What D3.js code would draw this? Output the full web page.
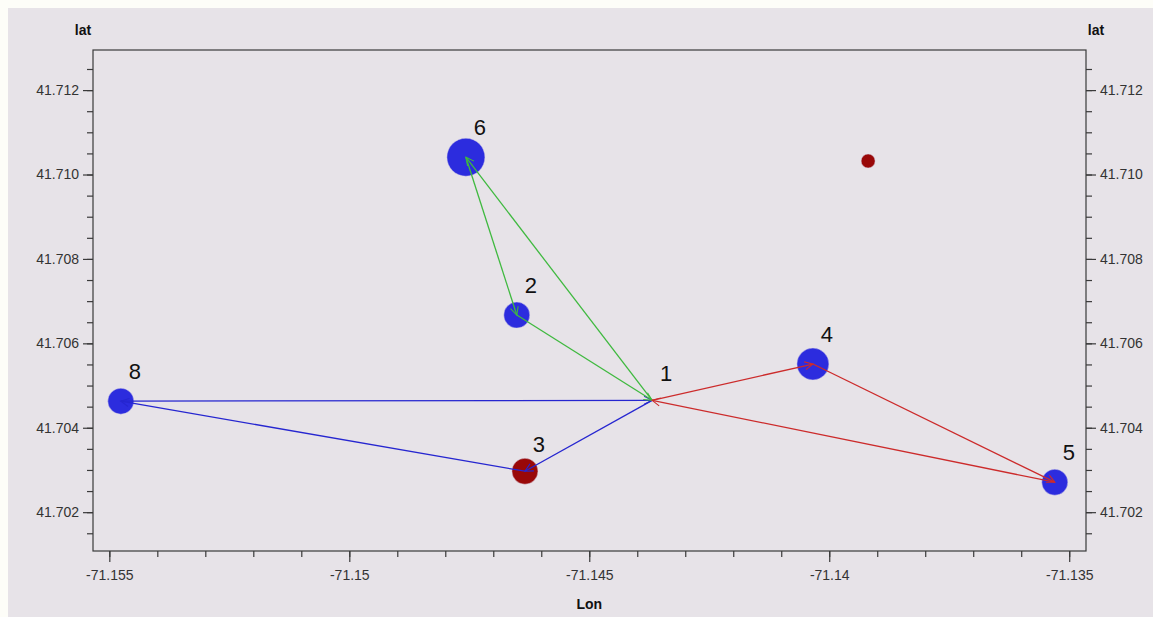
<!DOCTYPE html>
<html>
<head>
<meta charset="utf-8">
<script src="https://cdn.jsdelivr.net/npm/d3@7"></script>
<style>
  html, body { margin: 0; padding: 0; background: #fdfdf8; }
  svg { display: block; }
  text { font-family: "Liberation Sans", Arial, sans-serif; }
</style>
</head>
<body>
<svg id="chart" width="1153" height="617"></svg>
<script>
// ---- data ----
const pointIds   = ["1", "2", "3", "4", "5", "6", "8", ""];
const pointLon   = [-71.14369, -71.14651, -71.14634, -71.14034, -71.13530, -71.14757, -71.15476, -71.13919];
const pointLat   = [41.70465, 41.70667, 41.70297, 41.70551, 41.70271, 41.71041, 41.70463, 41.71032];
const pointSize  = [0, 13, 13, 16, 13, 19, 13, 7];
const pointGroup = ["none", "blue", "red", "blue", "blue", "blue", "blue", "red"];

const routeNames = ["blue", "green", "red"];
const routeBlue  = ["1", "3", "8", "1"];
const routeGreen = ["1", "6", "2", "1"];
const routeRed   = ["1", "4", "5", "1"];

const lonTicks   = [-71.155, -71.15, -71.145, -71.14, -71.135];
const lonMinor   = [-71.155, -71.154, -71.153, -71.152, -71.151, -71.15, -71.149, -71.148, -71.147, -71.146, -71.145,
                    -71.144, -71.143, -71.142, -71.141, -71.14, -71.139, -71.138, -71.137, -71.136, -71.135];
const latTicks   = [41.702, 41.704, 41.706, 41.708, 41.710, 41.712];
const latMinor   = [41.7015, 41.702, 41.7025, 41.703, 41.7035, 41.704, 41.7045, 41.705, 41.7055, 41.706, 41.7065,
                    41.707, 41.7075, 41.708, 41.7085, 41.709, 41.7095, 41.710, 41.7105, 41.711, 41.7115, 41.712, 41.7125];

// ---- layout / style ----
const svg = d3.select("#chart");
const W = 1153, H = 617;
const plot = { left: 93, top: 50, right: 1086, bottom: 551 };
const pointColor = { blue: "#2c2cde", red: "#990808", none: "none" };
const lineColor  = { blue: "#2626d0", green: "#3fb93f", red: "#cc2b2b" };

svg.append("rect").attr("x", 8).attr("y", 8).attr("width", W - 8).attr("height", H - 8).attr("fill", "#e7e3e8");

const x = d3.scaleLinear().domain([-71.15534, -71.13465]).range([plot.left, plot.right]);
const y = d3.scaleLinear().domain([41.70108, 41.71295]).range([plot.bottom, plot.top]);

const fmt = d => String(+d.toFixed(3));
const axisColor = "#333";

// frame
svg.append("rect")
  .attr("x", plot.left).attr("y", plot.top)
  .attr("width", plot.right - plot.left).attr("height", plot.bottom - plot.top)
  .attr("fill", "none").attr("stroke", "#3a3a3a").attr("stroke-width", 1.2);

function styleAxis(g) {
  g.select(".domain").remove();
  g.selectAll("line").attr("stroke", "#3a3a3a").attr("stroke-width", 1.2);
  g.selectAll("text").attr("fill", axisColor).attr("font-size", 14);
}

// x axis
svg.append("g").attr("transform", `translate(0,${plot.bottom})`)
  .call(d3.axisBottom(x).tickValues(lonMinor).tickSize(6).tickFormat(""))
  .call(styleAxis);
svg.append("g").attr("transform", `translate(0,${plot.bottom})`)
  .call(d3.axisBottom(x).tickValues(lonTicks).tickSize(11).tickPadding(8).tickFormat(fmt))
  .call(styleAxis);

// y axes
svg.append("g").attr("transform", `translate(${plot.left},0)`)
  .call(d3.axisLeft(y).tickValues(latMinor).tickSize(6).tickFormat(""))
  .call(styleAxis);
svg.append("g").attr("transform", `translate(${plot.left},0)`)
  .call(d3.axisLeft(y).tickValues(latTicks).tickSize(10).tickPadding(4).tickFormat(d => d.toFixed(3)))
  .call(styleAxis);
svg.append("g").attr("transform", `translate(${plot.right},0)`)
  .call(d3.axisRight(y).tickValues(latMinor).tickSize(6).tickFormat(""))
  .call(styleAxis);
svg.append("g").attr("transform", `translate(${plot.right},0)`)
  .call(d3.axisRight(y).tickValues(latTicks).tickSize(10).tickPadding(4).tickFormat(d => d.toFixed(3)))
  .call(styleAxis);

// axis titles
svg.append("text").attr("x", 83).attr("y", 35).attr("text-anchor", "middle")
  .attr("font-weight", "bold").attr("font-size", 14).attr("fill", "#111").text("lat");
svg.append("text").attr("x", 1096).attr("y", 35).attr("text-anchor", "middle")
  .attr("font-weight", "bold").attr("font-size", 14).attr("fill", "#111").text("lat");
svg.append("text").attr("x", (x(-71.145))).attr("y", 609).attr("text-anchor", "middle")
  .attr("font-weight", "bold").attr("font-size", 14).attr("fill", "#111").text("Lon");

// points
const pts = pointIds.map((id, i) => ({ id, lon: pointLon[i], lat: pointLat[i], r: pointSize[i], g: pointGroup[i] }));
const byId = {};
pts.forEach(p => { if (p.id) byId[p.id] = p; });

svg.append("g").selectAll("circle").data(pts.filter(p => p.g !== "none")).join("circle")
  .attr("cx", d => x(d.lon)).attr("cy", d => y(d.lat)).attr("r", d => d.r)
  .attr("fill", d => pointColor[d.g])
  .attr("stroke", "#d9d3e6").attr("stroke-width", 0.8).attr("stroke-opacity", 0.6);

// arrow markers
const defs = svg.append("defs");
routeNames.forEach(name => {
  defs.append("marker").attr("id", "arr-" + name)
    .attr("viewBox", "-10 -6 12 12").attr("refX", 0).attr("refY", 0)
    .attr("markerWidth", 12).attr("markerHeight", 12)
    .attr("markerUnits", "userSpaceOnUse").attr("orient", "auto")
    .append("path").attr("d", "M-8,-4 L0,0 L-8,4")
    .attr("fill", "none").attr("stroke", lineColor[name]).attr("stroke-width", 1.1);
});

const routes = { blue: routeBlue, green: routeGreen, red: routeRed };
const gl = svg.append("g");
routeNames.forEach(name => {
  const seq = routes[name];
  const segs = d3.pairs(seq).map(([a, b]) => ({ a: byId[a], b: byId[b] }));
  gl.selectAll(null).data(segs).join("line")
    .attr("x1", d => x(d.a.lon)).attr("y1", d => y(d.a.lat))
    .attr("x2", d => x(d.b.lon)).attr("y2", d => y(d.b.lat))
    .attr("stroke", lineColor[name]).attr("stroke-width", 1.3)
    .attr("marker-end", `url(#arr-${name})`);
});

// labels
svg.append("g").selectAll("text").data(pts.filter(p => p.id)).join("text")
  .attr("x", d => x(d.lon) + 14).attr("y", d => y(d.lat) - (d.id === "1" || d.id === "3" ? 19 : 22))
  .attr("text-anchor", "middle").attr("font-size", 22).attr("fill", "#111")
  .text(d => d.id);
</script>
</body>
</html>
